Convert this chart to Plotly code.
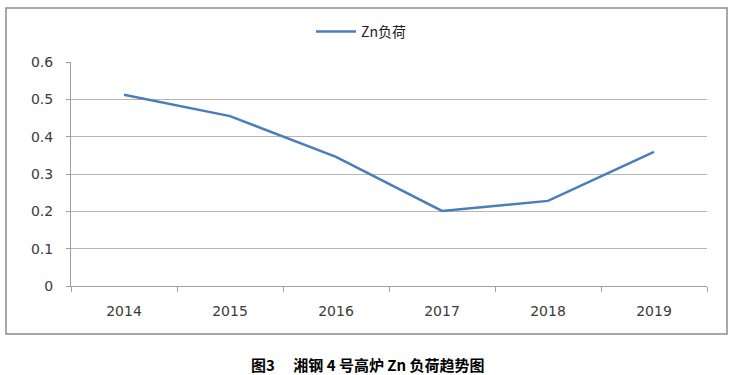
import plotly.graph_objects as go

years = ["2014", "2015", "2016", "2017", "2018", "2019"]
zn_load = [0.512, 0.455, 0.346, 0.201, 0.228, 0.359]
series_name = "Zn负荷"
caption = "图3　 湘钢 4 号高炉 Zn 负荷趋势图"

W, H = 736, 375
L, R, T, B = 71, 29, 62, 89
pw, ph = W - L - R, H - T - B

def px(x):
    return (x - L) / pw

def py(y):
    return (H - B - y) / ph

fig = go.Figure()
fig.add_trace(go.Scatter(
    x=years, y=zn_load, mode="lines", name=series_name,
    line=dict(color="#4a7ebb", width=2.5),
))

fig.update_layout(
    width=W, height=H,
    margin=dict(l=L, r=R, t=T, b=B),
    paper_bgcolor="white", plot_bgcolor="white",
    font=dict(family="DejaVu Sans, sans-serif", size=14, color="#3a3a3a"),
    showlegend=True,
    legend=dict(orientation="h", x=px(361), xanchor="center", y=py(32), yanchor="middle",
                font=dict(family="Noto Sans CJK SC, sans-serif", size=14, color="#222222"),
                itemwidth=40, bgcolor="rgba(0,0,0,0)"),
    xaxis=dict(type="category", tickson="boundaries", ticks="outside", ticklen=5,
               tickcolor="#a0a0a0", showline=True, linecolor="#a0a0a0", linewidth=1,
               showgrid=False, tickfont=dict(size=14), ticklabelstandoff=12,
               range=[-0.5, 5.5]),
    yaxis=dict(range=[0, 0.6], dtick=0.1, ticks="outside", ticklen=4, tickcolor="#a0a0a0",
               showline=True, linecolor="#a0a0a0", linewidth=1, showgrid=True,
               gridcolor="#b5b5b5", gridwidth=1, zeroline=False, tickfont=dict(size=14),
               ticklabelstandoff=10),
)

fig.add_shape(type="rect", xref="paper", yref="paper",
              x0=px(6), x1=px(727), y0=py(334), y1=py(8),
              line=dict(color="#8c8c8c", width=1.5), layer="below")

fig.add_annotation(text="<b>" + caption + "</b>", xref="paper", yref="paper",
                   x=px(368), y=py(364), showarrow=False, xanchor="center", yanchor="middle",
                   font=dict(family="Noto Sans CJK SC, serif", size=15, color="#000000"))

fig.write_html("out.html")
